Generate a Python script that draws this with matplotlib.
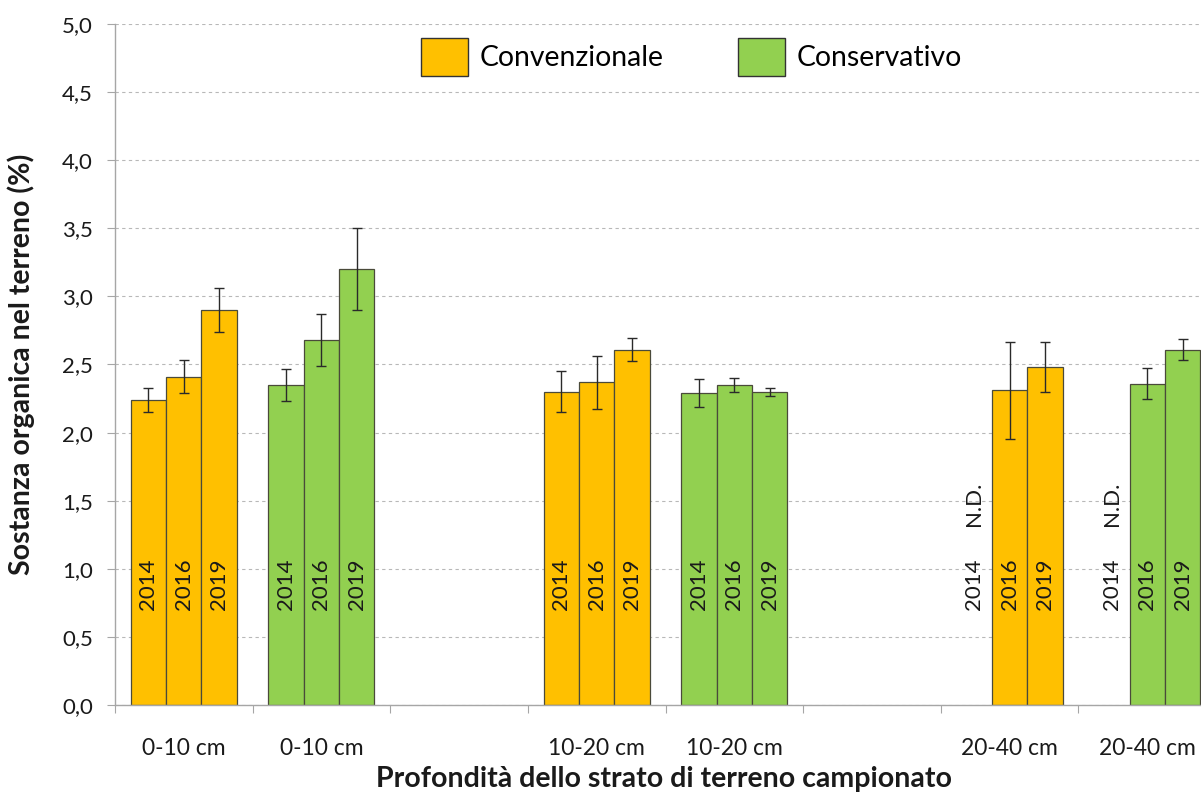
import numpy as np
import matplotlib.pyplot as plt
from matplotlib.patches import Patch
from matplotlib.ticker import FixedLocator, FuncFormatter

plt.rcParams['font.family'] = ['Lato', 'DejaVu Sans']

# Depth classes, one group of bars per treatment and depth
depths = ['0-10 cm', '10-20 cm', '20-40 cm']
years = ['2014', '2016', '2019']
treatments = ['Convenzionale', 'Conservativo']
colors = {'Convenzionale': '#FFC000', 'Conservativo': '#92D050'}

# Organic matter (%) per depth (rows) and year (columns); nan = not determined
conv_mean = np.array([[2.24, 2.41, 2.90],
                      [2.30, 2.37, 2.61],
                      [np.nan, 2.31, 2.48]])
conv_err = np.array([[0.09, 0.12, 0.16],
                     [0.15, 0.195, 0.085],
                     [np.nan, 0.355, 0.185]])
cons_mean = np.array([[2.35, 2.68, 3.20],
                      [2.29, 2.35, 2.30],
                      [np.nan, 2.36, 2.61]])
cons_err = np.array([[0.115, 0.19, 0.30],
                     [0.10, 0.05, 0.03],
                     [np.nan, 0.115, 0.08]])

y_ticks = np.arange(0, 5.01, 0.5)
ylabel = 'Sostanza organica nel terreno (%)'
xlabel = 'Profondità dello strato di terreno campionato'

fig = plt.figure(figsize=(12.01, 7.96), dpi=100)
ax = fig.add_axes([115 / 1201, 1 - 705 / 796, (1216 - 115) / 1201, (705 - 24) / 796])

bar_w = 0.257
edge = '#4a4a3a'
slot = 0
tick_labels = []
tick_pos = []
data = {'Convenzionale': (conv_mean, conv_err), 'Conservativo': (cons_mean, cons_err)}
for d, depth in enumerate(depths):
    for t in treatments:
        mean, err = data[t]
        for k, yr in enumerate(years):
            x = slot + (k - 1) * bar_w
            v = mean[d, k]
            if np.isnan(v):
                ax.text(x, 0.89, yr, rotation=90, ha='center', va='center',
                        fontsize=16, color='#1a1a1a', zorder=4)
                ax.text(x, 1.48, 'N.D.', rotation=90, ha='center', va='center',
                        fontsize=16, color='#1a1a1a', zorder=4)
                continue
            ax.bar(x, v, width=bar_w, color=colors[t], edgecolor=edge,
                   linewidth=0.9, zorder=2)
            ax.errorbar(x, v, yerr=err[d, k], fmt='none', ecolor='#2a2a2a',
                        elinewidth=1.0, capsize=3.5, capthick=1.0, zorder=3)
            ax.text(x, 0.89, yr, rotation=90, ha='center', va='center',
                    fontsize=16, color='#1a1a1a', zorder=4)
        tick_pos.append(slot)
        tick_labels.append(depth)
        slot += 1
    slot += 1  # empty category between depth classes

ax.set_xlim(-0.5, 7.5)
ax.set_ylim(0, 5)

ax.set_yticks(y_ticks)
ax.yaxis.set_major_formatter(FuncFormatter(lambda v, p: f'{v:.1f}'.replace('.', ',')))
ax.tick_params(axis='y', labelsize=16, length=6, width=0.8, color='#a6a6a6',
               pad=10, labelcolor='#1a1a1a')

ax.set_xticks(tick_pos)
ax.set_xticklabels(tick_labels)
ax.tick_params(axis='x', which='major', length=0, labelsize=16.5, pad=24,
               labelcolor='#1a1a1a')
ax.xaxis.set_minor_locator(FixedLocator(np.arange(-0.5, 8, 1.0)))
ax.tick_params(axis='x', which='minor', length=6, width=0.8, color='#a6a6a6')

ax.yaxis.grid(True, linestyle=(0, (3, 3)), color='#b8b8b8', linewidth=0.8, zorder=0)
ax.set_axisbelow(True)
for s in ('top', 'right'):
    ax.spines[s].set_visible(False)
for s in ('left', 'bottom'):
    ax.spines[s].set_color('#a6a6a6')
    ax.spines[s].set_linewidth(1.0)

ax.set_ylabel(ylabel, fontsize=20.5, fontweight='bold', color='#1a1a1a')
ax.yaxis.set_label_coords(-0.0727, 0.5)
fig.text(664 / 1201, 1 - 779 / 796, xlabel, fontsize=20.5, fontweight='bold',
         color='#1a1a1a', ha='center', va='center')

handles = [Patch(facecolor=colors[t], edgecolor='#333333', linewidth=1.0) for t in treatments]
fig.legend(handles, treatments, loc='upper left',
           bbox_to_anchor=(421 / 1201, 1 - 38 / 796), bbox_transform=fig.transFigure,
           ncol=2, frameon=False, fontsize=20.4, handlelength=1.66, handleheight=1.66,
           handletextpad=0.42, columnspacing=2.6, borderpad=0, borderaxespad=0)

fig.savefig('out.png', dpi=100)
